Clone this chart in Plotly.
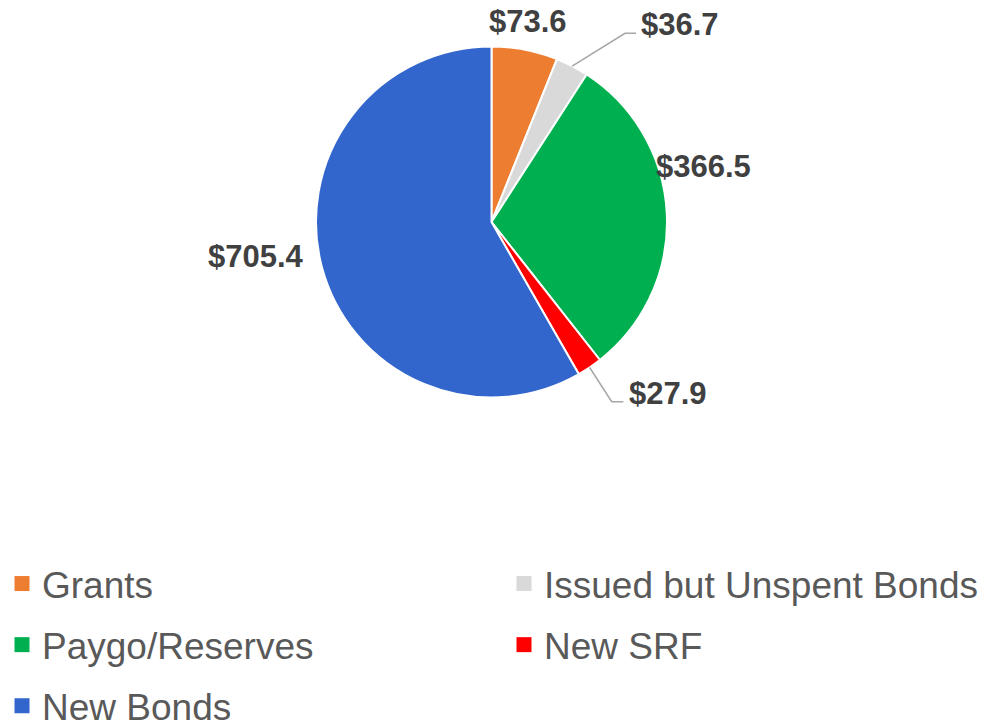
import math
import plotly.graph_objects as go

categories = ["Grants", "Issued but Unspent Bonds", "Paygo/Reserves", "New SRF", "New Bonds"]
values = [73.6, 36.7, 366.5, 27.9, 705.4]
colors = ["#ED7D31", "#D9D9D9", "#00B050", "#FF0000", "#3366CC"]
legend_cols = ["legend", "legend2", "legend", "legend2", "legend"]

W, H = 996, 724
CX, CY, R = 491.5, 222, 175.5
FONT = "Arial, Liberation Sans, sans-serif"

# label centres (px from top-left) and leader elbows for the small slices
LABEL_POS = {
    "Grants": (528, 22),
    "Issued but Unspent Bonds": (680, 25),
    "Paygo/Reserves": (703.5, 166.5),
    "New SRF": (668, 393),
    "New Bonds": (256, 256),
}
LEADERS = {
    "Issued but Unspent Bonds": [(625, 33.3), (636, 33.3)],
    "New SRF": [(611.7, 401.7), (623.3, 401.7)],
}


def px(x, y):
    return x / W, 1 - y / H


fig = go.Figure()

x0, y0 = px(CX - R, CY + R)
x1, y1 = px(CX + R, CY - R)
fig.add_trace(go.Pie(
    labels=categories,
    values=values,
    sort=False,
    direction="clockwise",
    rotation=0,
    marker=dict(colors=colors, line=dict(color="white", width=2)),
    textinfo="none",
    hoverinfo="label+value",
    showlegend=False,
    domain=dict(x=[x0, x1], y=[y0, y1]),
))

# legend entries: two columns, one group per entry so the row gap can be set
for cat, col, lg in zip(categories, colors, legend_cols):
    fig.add_trace(go.Scatter(
        x=[None], y=[None], mode="markers", name=cat,
        legend=lg, legendgroup=cat,
        marker=dict(symbol="square", size=15, color=col),
    ))

total = sum(values)
cum = 0
for cat, v in zip(categories, values):
    mid = (cum + v / 2) / total * 2 * math.pi
    cum += v
    lx, ly = LABEL_POS[cat]
    ax, ay = px(lx, ly)
    fig.add_annotation(
        x=ax, y=ay, xref="paper", yref="paper", showarrow=False,
        text=f"<b>${v:.1f}</b>", font=dict(family=FONT, size=31, color="#404040"),
        xanchor="center", yanchor="middle",
    )
    if cat in LEADERS:
        pts = [(CX + R * math.sin(mid), CY - R * math.cos(mid))] + LEADERS[cat]
        path = "M " + " L ".join(f"{px(a, b)[0]},{px(a, b)[1]}" for a, b in pts)
        fig.add_shape(type="path", path=path, xref="paper", yref="paper",
                      line=dict(color="#A6A6A6", width=1.5))

legend_style = dict(
    orientation="v", xanchor="left", yanchor="top",
    y=px(0, 553)[1],
    traceorder="grouped", tracegroupgap=10,
    font=dict(family=FONT, size=37, color="#595959"),
    bgcolor="rgba(0,0,0,0)",
)
fig.update_layout(
    width=W, height=H,
    margin=dict(l=0, r=0, t=0, b=0, autoexpand=False),
    paper_bgcolor="white", plot_bgcolor="white",
    xaxis=dict(visible=False), yaxis=dict(visible=False),
    legend=dict(legend_style, x=px(2, 0)[0]),
    legend2=dict(legend_style, x=px(504, 0)[0]),
)

# drop the browser's default 8px body margin so the figure sits at the page corner
fig.write_html("out.html", config={"displayModeBar": False},
               post_script="document.body.style.margin='0';")
